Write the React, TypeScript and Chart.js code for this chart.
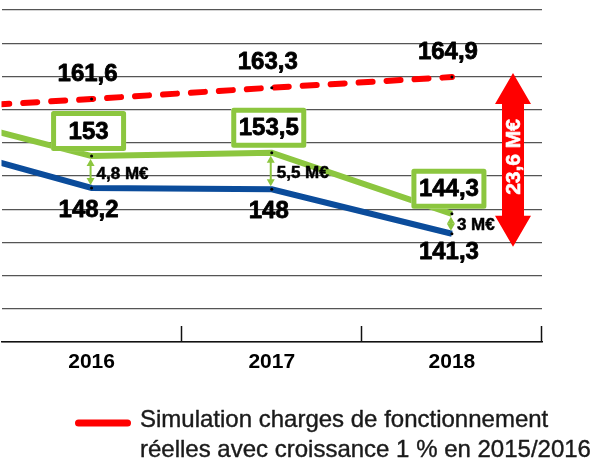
import React, { useEffect, useRef } from "react";
import { Chart, registerables } from "chart.js";

Chart.register(...registerables);

const FONT = "'Liberation Sans', Arial, sans-serif";

const years = ["2015", "2016", "2017", "2018"];
const simulation = [160, 161.6, 163.3, 164.9];
const greenSeries = [160, 153, 153.5, 144.3];
const blueSeries = [155.7, 148.2, 148, 141.3];

const simLabels = ["", "161,6", "163,3", "164,9"];
const greenLabels = ["", "153", "153,5", "144,3"];
const blueLabels = ["", "148,2", "148", "141,3"];
const gapLabels = ["", "4,8 M€", "5,5 M€", "3 M€"];

const totalGapLabel = "23,6 M€";
const totalGapRange = [164.9, 141.3];

const legendLines = [
  "Simulation charges de fonctionnement",
  "réelles avec croissance 1 % en 2015/2016",
];

const yMin = 125;
const yMax = 175;
const yStep = 5;

const RED = "#ff0000";
const GREEN = "#8cc63f";
const BLUE = "#0b4c9b";

function heavyText(ctx: CanvasRenderingContext2D, t: string, x: number, y: number, sw: number) {
  ctx.lineWidth = sw;
  ctx.lineJoin = "round";
  ctx.strokeStyle = ctx.fillStyle as string;
  ctx.strokeText(t, x, y);
  ctx.fillText(t, x, y);
}

const overlay = {
  id: "overlay",
  afterDatasetsDraw(chart: any) {
    const ctx = chart.ctx as CanvasRenderingContext2D;
    const area = chart.chartArea;
    const xs = chart.scales.x;
    const ys = chart.scales.y;
    const red = chart.getDatasetMeta(0).data;
    const green = chart.getDatasetMeta(1).data;
    const blue = chart.getDatasetMeta(2).data;
    ctx.save();

    // inner tick marks at category boundaries
    const x1 = xs.getPixelForValue(1);
    const x2 = xs.getPixelForValue(2);
    const w = x2 - x1;
    ctx.strokeStyle = "#111";
    ctx.lineWidth = 1.5;
    for (let k = 1; k <= 3; k++) {
      const bx = Math.round(x1 - w / 2 + k * w) - 0.5;
      ctx.beginPath();
      ctx.moveTo(bx, area.bottom - 16);
      ctx.lineTo(bx, area.bottom);
      ctx.stroke();
    }

    for (let i = 1; i < years.length; i++) {
      const r = red[i];
      const g = green[i];
      const b = blue[i];

      // gap double arrow
      const ax = g.x - 1;
      const top = g.y + 3;
      const bot = b.y - 3;
      ctx.strokeStyle = GREEN;
      ctx.fillStyle = GREEN;
      ctx.lineWidth = 2;
      ctx.beginPath();
      ctx.moveTo(ax, top + 5);
      ctx.lineTo(ax, bot - 5);
      ctx.stroke();
      ctx.beginPath();
      ctx.moveTo(ax, top);
      ctx.lineTo(ax + 4, top + 7);
      ctx.lineTo(ax - 4, top + 7);
      ctx.closePath();
      ctx.fill();
      ctx.beginPath();
      ctx.moveTo(ax, bot);
      ctx.lineTo(ax + 4, bot - 7);
      ctx.lineTo(ax - 4, bot - 7);
      ctx.closePath();
      ctx.fill();

      ctx.fillStyle = "#000";
      ctx.textAlign = "left";
      ctx.textBaseline = "middle";
      ctx.font = `bold 17px ${FONT}`;
      heavyText(ctx, gapLabels[i], g.x + 5, (g.y + b.y) / 2 + 2, 0.5);

      // value labels
      ctx.textAlign = "center";
      ctx.font = `bold 24px ${FONT}`;
      heavyText(ctx, simLabels[i], r.x - 4, r.y - 25, 0.8);
      heavyText(ctx, blueLabels[i], b.x - 3, b.y + (i === 3 ? 19 : 22), 0.8);

      // green boxed label
      const cx = g.x - 3;
      const cy = g.y - 25;
      ctx.fillStyle = "#fff";
      ctx.fillRect(cx - 37.5, cy - 20, 75, 40);
      ctx.strokeStyle = GREEN;
      ctx.lineWidth = 5;
      ctx.strokeRect(cx - 35, cy - 17.5, 70, 35);
      ctx.fillStyle = "#000";
      heavyText(ctx, greenLabels[i], cx, cy + 1, 0.8);
    }

    // big red double arrow
    const acx = area.right - 29;
    const atop = ys.getPixelForValue(totalGapRange[0]) - 4;
    const abot = ys.getPixelForValue(totalGapRange[1]) + 13;
    const hh = 31, hw = 18, sw = 11;
    ctx.fillStyle = RED;
    ctx.beginPath();
    ctx.moveTo(acx, atop);
    ctx.lineTo(acx + hw, atop + hh);
    ctx.lineTo(acx + sw, atop + hh);
    ctx.lineTo(acx + sw, abot - hh);
    ctx.lineTo(acx + hw, abot - hh);
    ctx.lineTo(acx, abot);
    ctx.lineTo(acx - hw, abot - hh);
    ctx.lineTo(acx - sw, abot - hh);
    ctx.lineTo(acx - sw, atop + hh);
    ctx.lineTo(acx - hw, atop + hh);
    ctx.closePath();
    ctx.fill();
    ctx.save();
    ctx.translate(acx + 1, (atop + abot) / 2 - 3);
    ctx.rotate(-Math.PI / 2);
    ctx.fillStyle = "#fff";
    ctx.font = `bold 21px ${FONT}`;
    ctx.textAlign = "center";
    ctx.textBaseline = "middle";
    heavyText(ctx, totalGapLabel, 0, 0, 0.6);
    ctx.restore();

    ctx.restore();
  },
  afterDraw(chart: any) {
    const ctx = chart.ctx as CanvasRenderingContext2D;
    ctx.save();
    ctx.strokeStyle = RED;
    ctx.lineWidth = 7;
    ctx.lineCap = "round";
    ctx.beginPath();
    ctx.moveTo(78.5, 423);
    ctx.lineTo(127.5, 423);
    ctx.stroke();
    ctx.fillStyle = "#1a1a1a";
    ctx.font = `24px ${FONT}`;
    ctx.textAlign = "left";
    ctx.textBaseline = "middle";
    heavyText(ctx, legendLines[0], 140, 420, 0.4);
    heavyText(ctx, legendLines[1], 140, 450, 0.4);
    ctx.restore();
  },
};

export default function App() {
  const ref = useRef<HTMLCanvasElement | null>(null);

  useEffect(() => {
    if (!ref.current) return;
    const pointStyle = {
      pointRadius: 1.5,
      pointHoverRadius: 1.5,
      pointBackgroundColor: "#000",
      pointBorderWidth: 0,
    };
    const chart = new Chart(ref.current, {
      type: "line",
      data: {
        labels: years,
        datasets: [
          {
            label: "Simulation",
            data: simulation,
            borderColor: RED,
            borderWidth: 6,
            borderDash: [14, 14],
            borderCapStyle: "round",
            tension: 0,
            ...pointStyle,
          },
          {
            label: "Vert",
            data: greenSeries,
            borderColor: GREEN,
            borderWidth: 6,
            tension: 0,
            ...pointStyle,
          },
          {
            label: "Bleu",
            data: blueSeries,
            borderColor: BLUE,
            borderWidth: 6,
            tension: 0,
            ...pointStyle,
          },
        ],
      },
      options: {
        animation: false,
        responsive: false,
        devicePixelRatio: 1,
        layout: { padding: { left: 0, right: 60, top: 10, bottom: 0 } },
        plugins: {
          legend: { display: false },
          tooltip: { enabled: false },
        },
        scales: {
          x: {
            type: "category",
            min: "2016",
            offset: true,
            grid: { display: false, drawTicks: false },
            border: { display: true, color: "#111", width: 1.5 },
            ticks: {
              color: "#000",
              font: { family: FONT, size: 21, weight: "bold" },
              padding: 8,
            },
            afterFit: (s: any) => {
              s.height = 117;
            },
          },
          y: {
            min: yMin,
            max: yMax,
            ticks: { display: false, stepSize: yStep },
            border: { display: false },
            grid: { color: "#555", lineWidth: 1.3, drawTicks: false },
            afterFit: (s: any) => {
              s.width = 0;
            },
          },
        },
      },
      plugins: [overlay],
    } as any);
    return () => chart.destroy();
  }, []);

  return (
    <div style={{ position: "absolute", left: 0, top: 0, width: 602, height: 459, background: "#fff" }}>
      <canvas ref={ref} width={602} height={459} style={{ display: "block" }} />
    </div>
  );
}
